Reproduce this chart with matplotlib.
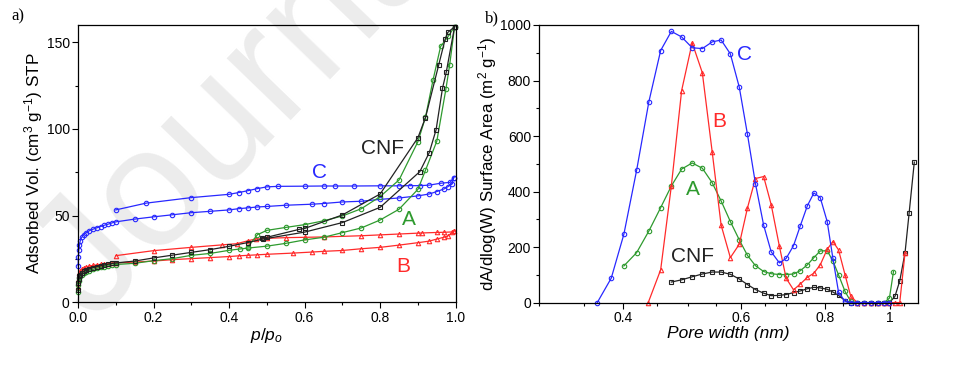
import numpy as np
import matplotlib
matplotlib.use("Agg")
import matplotlib.pyplot as plt
from matplotlib.ticker import MultipleLocator, FixedLocator, NullFormatter

plt.rcParams['font.family'] = ['Liberation Sans', 'DejaVu Sans']
plt.rcParams['mathtext.fontset'] = 'custom'
plt.rcParams['mathtext.rm'] = 'Liberation Sans'
plt.rcParams['mathtext.it'] = 'Liberation Sans:italic'

# ---- panel a: isotherms (p/p0, adsorbed volume) ----
low_p = [0.0005, 0.001, 0.002, 0.004, 0.006, 0.01, 0.015, 0.02, 0.03, 0.04,
         0.05, 0.06, 0.07, 0.08, 0.09, 0.1]

c_ads_p = low_p + [0.15, 0.2, 0.25, 0.3, 0.35, 0.4, 0.425, 0.45, 0.475, 0.5, 0.55,
                   0.62, 0.65, 0.7, 0.75, 0.8, 0.85, 0.9, 0.93, 0.95, 0.97, 0.98,
                   0.99, 0.995]
c_ads_v = [21, 26, 30, 33, 35.5, 37.5, 39, 40, 41.3, 42.2, 43, 43.7, 44.5, 45.1,
           45.8, 46.4,
           48, 49.3, 50.5, 51.7, 52.5, 53.3, 54, 54.5, 55, 55.3, 56, 56.6, 57,
           57.9, 58.3, 59.4, 60.2, 61.4, 62.5, 63.9, 65.5, 66.8, 68.5, 72]
c_des_p = [0.995, 0.985, 0.96, 0.93, 0.905, 0.88, 0.85, 0.8, 0.73, 0.68, 0.65,
           0.6, 0.53, 0.5, 0.475, 0.45, 0.425, 0.4, 0.3, 0.18, 0.1]
c_des_v = [72, 69.2, 68.7, 67.6, 67.3, 67.3, 67.2, 67.2, 67.1, 67.1, 67.1, 67.0,
           66.9, 66.6, 65.6, 64.4, 63.3, 62.3, 60.4, 57.2, 53.3]

b_ads_p = low_p + [0.15, 0.2, 0.25, 0.3, 0.35, 0.4, 0.425, 0.45, 0.475, 0.5, 0.57,
                   0.62, 0.65, 0.7, 0.75, 0.8, 0.85, 0.9, 0.93, 0.95, 0.97, 0.98,
                   0.995]
b_ads_v = [9, 13, 15.5, 17, 18, 19, 19.7, 20.2, 20.9, 21.3, 21.6, 21.9, 22.1,
           22.3, 22.5, 22.7,
           23.2, 23.8, 24.6, 25.2, 25.8, 26.4, 26.8, 27.1, 27.4, 27.7, 28.4, 29,
           29.4, 29.9, 30.9, 31.7, 33, 34.4, 35.3, 36.5, 37.6, 38.4, 41]
b_des_p = [0.995, 0.99, 0.97, 0.95, 0.91, 0.9, 0.85, 0.8, 0.75, 0.65, 0.6, 0.55,
           0.5, 0.47, 0.45, 0.42, 0.38, 0.3, 0.2, 0.1]
b_des_v = [41, 40.6, 40.4, 40.3, 40.0, 39.9, 39.4, 38.9, 38.4, 37.7, 37.5, 37.3,
           36.9, 36.5, 35.5, 33.8, 33.1, 31.7, 29.8, 26.9]

a_ads_p = low_p + [0.15, 0.2, 0.25, 0.3, 0.35, 0.4, 0.43, 0.45, 0.5, 0.55, 0.6,
                   0.65, 0.7, 0.75, 0.8, 0.85, 0.9, 0.92, 0.95, 0.974, 0.984,
                   0.997]
a_ads_v = [6, 10, 12.5, 14, 15, 16, 16.8, 17.4, 18.3, 19, 19.6, 20.1, 20.6, 21,
           21.4, 21.8,
           22.5, 24, 25.2, 27.1, 28.2, 30, 30.8, 31.3, 32.4, 34, 36, 37.5, 40.2,
           42.9, 47.5, 53.7, 65.2, 76.2, 93, 123, 137, 159]
a_des_p = [0.997, 0.98, 0.96, 0.94, 0.92, 0.9, 0.85, 0.8, 0.75, 0.7, 0.65, 0.6,
           0.55, 0.5, 0.475, 0.45]
a_des_v = [159, 153.4, 147.6, 128.3, 106.8, 92.7, 70.6, 61, 54, 49.8, 47, 44.8,
           43.2, 41.5, 39, 32]

cnf_ads_p = low_p + [0.15, 0.2, 0.25, 0.3, 0.35, 0.4, 0.45, 0.49, 0.6, 0.7, 0.8,
                     0.905, 0.93, 0.948, 0.965, 0.975, 0.997]
cnf_ads_v = [7, 11, 13.5, 15, 16, 17, 17.8, 18.4, 19.3, 20, 20.6, 21.1, 21.6, 22,
             22.4, 22.7,
             23.8, 25.6, 27.2, 28.8, 30.4, 32.3, 34.5, 36.5, 40.5, 46, 54.8, 75.4,
             86.4, 99.5, 123.5, 132.8, 159]
cnf_des_p = [0.997, 0.979, 0.972, 0.955, 0.92, 0.9, 0.8, 0.7, 0.6, 0.586, 0.5,
             0.487]
cnf_des_v = [159, 155.7, 151.8, 137, 106.6, 95, 62.5, 50.4, 42.6, 42.1, 37.5, 37]

# ---- panel b: pore size distribution ----
c_w = [0.366, 0.384, 0.401, 0.419, 0.437, 0.455, 0.472, 0.489, 0.507, 0.525,
       0.543, 0.560, 0.578, 0.596, 0.613, 0.630, 0.648, 0.665, 0.684, 0.700,
       0.718, 0.735, 0.753, 0.770, 0.787, 0.806, 0.822, 0.838, 0.857, 0.874,
       0.894, 0.915, 0.936, 0.958, 0.980, 0.998]
c_s = [0, 88, 246, 477, 724, 908, 977, 957, 918, 915, 939, 946, 896, 776, 606,
       429, 279, 183, 143, 159, 205, 277, 349, 395, 378, 292, 159, 38, 4, 0, 0,
       0, 0, 0, 0, 0]

b_w = [0.436, 0.455, 0.472, 0.489, 0.507, 0.525, 0.543, 0.560, 0.578, 0.596,
       0.613, 0.630, 0.648, 0.665, 0.684, 0.700, 0.718, 0.735, 0.753, 0.770,
       0.787, 0.806, 0.822, 0.838, 0.857, 0.874, 0.894, 0.915, 0.936, 0.958,
       0.980, 0.998, 1.017, 1.034, 1.053]
b_s = [0, 118, 420, 764, 936, 828, 544, 279, 162, 210, 341, 447, 454, 353, 203,
       88, 46, 67, 91, 106, 136, 192, 220, 190, 100, 22, 0, 0, 0, 0, 0, 0, 0, 0,
       180]

a_w = [0.401, 0.419, 0.437, 0.455, 0.472, 0.489, 0.507, 0.525, 0.543, 0.560,
       0.578, 0.596, 0.613, 0.630, 0.648, 0.665, 0.684, 0.700, 0.718, 0.735,
       0.753, 0.770, 0.787, 0.806, 0.822, 0.838, 0.857, 0.874, 0.894, 0.915,
       0.936, 0.958, 0.980, 0.998, 1.012]
a_s = [132, 180, 258, 342, 420, 481, 503, 484, 432, 366, 292, 226, 170, 133, 112,
       104, 101, 101, 103, 115, 136, 162, 186, 187, 150, 100, 40, 4, 0, 0, 0, 0,
       0, 16, 112]

cnf_w = [0.472, 0.489, 0.507, 0.525, 0.543, 0.560, 0.578, 0.596, 0.613, 0.630,
         0.648, 0.665, 0.684, 0.700, 0.718, 0.735, 0.753, 0.770, 0.787, 0.806,
         0.822, 0.838, 0.857, 0.874, 0.894, 0.915, 0.936, 0.958, 0.980, 0.998,
         1.017, 1.034, 1.053, 1.068, 1.087]
cnf_s = [74, 82, 93, 103, 110, 110, 102, 85, 65, 47, 34, 25, 26, 29, 36, 42, 50,
         55, 53, 48, 38, 26, 7, 0, 0, 0, 0, 0, 0, 0, 22, 78, 180, 324, 506]

BLUE = '#2828ff'
RED = '#ff2a2a'
GREEN = '#2e9a2e'
BLACK = '#222222'

fig = plt.figure(figsize=(9.59, 3.67), dpi=100)

# faint watermark behind the left panel (cut by the figure edge, as in the source)
fig.text(0.005, 0.15, 'Journal', fontsize=122, color='#ececec',
         rotation=46, ha='left', va='baseline', zorder=-5)

ax1 = fig.add_axes([0.0813, 0.1763, 0.3939, 0.7556])
ax2 = fig.add_axes([0.5624, 0.1755, 0.3946, 0.7564])
for ax in (ax1, ax2):
    ax.patch.set_alpha(0)


def line(ax, x, y, color, marker):
    ax.plot(x, y, color=color, lw=0.9, marker=marker, ms=3.2, mew=0.8,
            mfc='none', mec=color, clip_on=False)


line(ax1, c_ads_p, c_ads_v, BLUE, 'o')
line(ax1, c_des_p, c_des_v, BLUE, 'o')
line(ax1, b_ads_p, b_ads_v, RED, '^')
line(ax1, b_des_p, b_des_v, RED, '^')
line(ax1, a_ads_p, a_ads_v, GREEN, 'o')
line(ax1, a_des_p, a_des_v, GREEN, 'o')
line(ax1, cnf_ads_p, cnf_ads_v, BLACK, 's')
line(ax1, cnf_des_p, cnf_des_v, BLACK, 's')

ax1.set_xlim(0, 1.0)
ax1.set_ylim(0, 160)
ax1.xaxis.set_major_locator(MultipleLocator(0.2))
ax1.xaxis.set_minor_locator(MultipleLocator(0.1))
ax1.yaxis.set_major_locator(MultipleLocator(50))
ax1.yaxis.set_minor_locator(MultipleLocator(25))
ax1.xaxis.set_major_formatter(plt.FuncFormatter(lambda v, p: f'{v:.1f}'))
ax1.set_xlabel(r'$p/p_o$', fontsize=12.5, labelpad=1)
ax1.set_ylabel(r'Adsorbed Vol. (cm$^3$ g$^{-1}$) STP', fontsize=12.3, labelpad=1)
ax1.text(0.64, 75, 'C', color=BLUE, fontsize=15, ha='center', va='center')
ax1.text(0.805, 89, 'CNF', color=BLACK, fontsize=15, ha='center', va='center')
ax1.text(0.875, 48, 'A', color=GREEN, fontsize=15, ha='center', va='center')
ax1.text(0.86, 20.5, 'B', color=RED, fontsize=15, ha='center', va='center')

line(ax2, cnf_w, cnf_s, BLACK, 's')
line(ax2, a_w, a_s, GREEN, 'o')
line(ax2, b_w, b_s, RED, '^')
line(ax2, c_w, c_s, BLUE, 'o')

ax2.set_xscale('log')
ax2.set_xlim(0.3, 1.1)
ax2.set_ylim(0, 1000)
ax2.xaxis.set_major_locator(FixedLocator([0.4, 0.6, 0.8, 1.0]))
ax2.xaxis.set_major_formatter(plt.FuncFormatter(lambda v, p: f'{v:g}'))
ax2.xaxis.set_minor_locator(FixedLocator([0.3, 0.35, 0.45, 0.5, 0.55, 0.65, 0.7,
                                          0.75, 0.85, 0.9, 0.95, 1.05]))
ax2.xaxis.set_minor_formatter(NullFormatter())
ax2.yaxis.set_major_locator(MultipleLocator(200))
ax2.yaxis.set_minor_locator(MultipleLocator(100))
ax2.set_xlabel('Pore width (nm)', fontsize=12.5, style='italic', labelpad=1)
ax2.set_ylabel(r'dA/dlog(W) Surface Area (m$^2$ g$^{-1}$)', fontsize=12.2,
               labelpad=1)
ax2.text(0.607, 895, 'C', color=BLUE, fontsize=15, ha='center', va='center')
ax2.text(0.557, 652, 'B', color=RED, fontsize=15, ha='center', va='center')
ax2.text(0.508, 406, 'A', color=GREEN, fontsize=15, ha='center', va='center')
ax2.text(0.508, 166, 'CNF', color=BLACK, fontsize=15, ha='center', va='center')

for ax in (ax1, ax2):
    ax.tick_params(which='both', direction='out', labelsize=10, top=False,
                   right=False, pad=2)
    ax.tick_params(which='major', length=4, width=0.8)
    ax.tick_params(which='minor', length=2.5, width=0.8)
    for s in ax.spines.values():
        s.set_linewidth(0.9)

fig.text(0.012, 0.945, 'a)', fontsize=12, family='Liberation Serif')
fig.text(0.506, 0.94, 'b)', fontsize=12, family='Liberation Serif')

fig.savefig('out.png', dpi=100)
